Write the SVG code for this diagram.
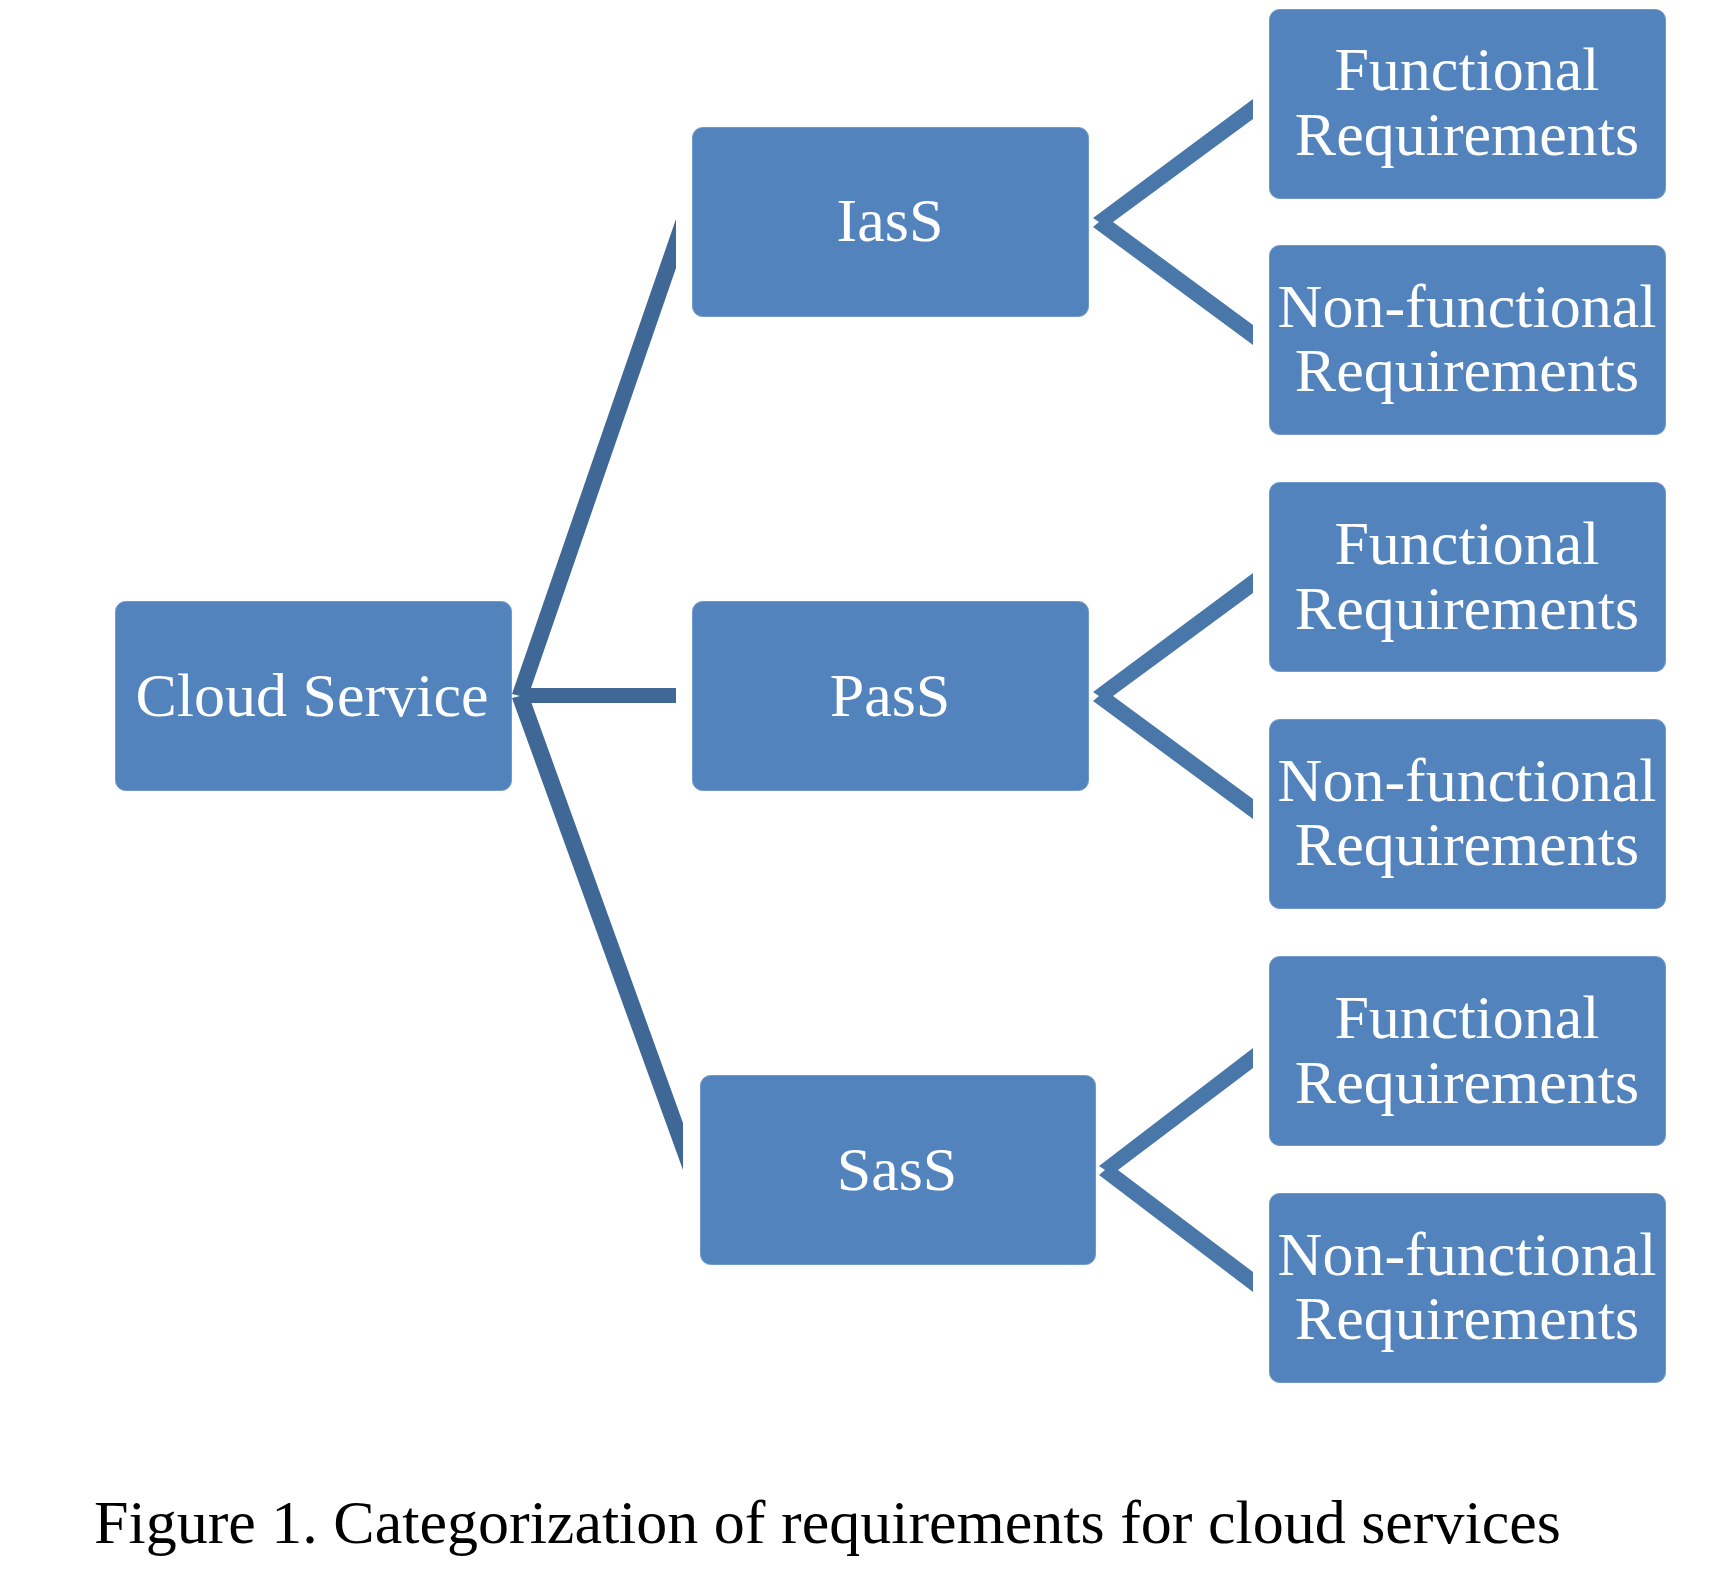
<svg xmlns="http://www.w3.org/2000/svg" width="1726" height="1586" viewBox="0 0 1726 1586">
<style>
.box{fill:#5283BC;stroke:#7299CB;stroke-width:1}
.lbl{font-family:"Liberation Serif","Times New Roman",serif;font-size:62px;fill:#FFFFFF;text-anchor:middle}
.cap{font-family:"Liberation Serif","Times New Roman",serif;font-size:62px;fill:#000000}
.cl{fill:#3F6896}
.cr{fill:#4A77AA}
</style>
<rect width="1726" height="1586" fill="#FFFFFF"/>
<g id="connectors">
<polygon class="cl" points="512,694 676,219 676,268 531,688 676,688 676,703 531.5,703 683,1123 683,1170 512,698 520,696"/>
<polygon class="cr" points="1093,218 1253,99 1253,119 1113,222 1253,325 1253,345 1093,227 1099,222"/>
<polygon class="cr" points="1093,692 1253,573 1253,593 1113,696 1253,799 1253,819 1093,701 1099,696"/>
<polygon class="cr" points="1099,1166 1253,1048 1253,1068 1118,1170 1253,1272 1253,1292 1099,1175 1105,1170"/>
</g>
<g id="cloud">
<rect class="box" x="115.5" y="601.5" width="396" height="189" rx="10"/>
<text class="lbl" x="312" y="716">Cloud Service</text>
</g>
<g id="iass">
<rect class="box" x="692.5" y="127.5" width="396" height="189" rx="10"/>
<text class="lbl" x="890" y="241">IasS</text>
</g>
<g id="pass">
<rect class="box" x="692.5" y="601.5" width="396" height="189" rx="10"/>
<text class="lbl" x="890" y="716">PasS</text>
</g>
<g id="sass">
<rect class="box" x="700.5" y="1075.5" width="395" height="189" rx="10"/>
<text class="lbl" x="897" y="1190">SasS</text>
</g>
<g id="iass-func">
<rect class="box" x="1269.5" y="9.5" width="396" height="189" rx="10"/>
<text class="lbl" x="1467" y="90">Functional</text>
<text class="lbl" x="1467" y="155">Requirements</text>
</g>
<g id="iass-nonfunc">
<rect class="box" x="1269.5" y="245.5" width="396" height="189" rx="10"/>
<text class="lbl" x="1467" y="327">Non-functional</text>
<text class="lbl" x="1467" y="391">Requirements</text>
</g>
<g id="pass-func">
<rect class="box" x="1269.5" y="482.5" width="396" height="189" rx="10"/>
<text class="lbl" x="1467" y="564">Functional</text>
<text class="lbl" x="1467" y="629">Requirements</text>
</g>
<g id="pass-nonfunc">
<rect class="box" x="1269.5" y="719.5" width="396" height="189" rx="10"/>
<text class="lbl" x="1467" y="801">Non-functional</text>
<text class="lbl" x="1467" y="865">Requirements</text>
</g>
<g id="sass-func">
<rect class="box" x="1269.5" y="956.5" width="396" height="189" rx="10"/>
<text class="lbl" x="1467" y="1038">Functional</text>
<text class="lbl" x="1467" y="1103">Requirements</text>
</g>
<g id="sass-nonfunc">
<rect class="box" x="1269.5" y="1193.5" width="396" height="189" rx="10"/>
<text class="lbl" x="1467" y="1275">Non-functional</text>
<text class="lbl" x="1467" y="1339">Requirements</text>
</g>
<text class="cap" x="94" y="1543">Figure 1. Categorization of requirements for cloud services</text>
</svg>
